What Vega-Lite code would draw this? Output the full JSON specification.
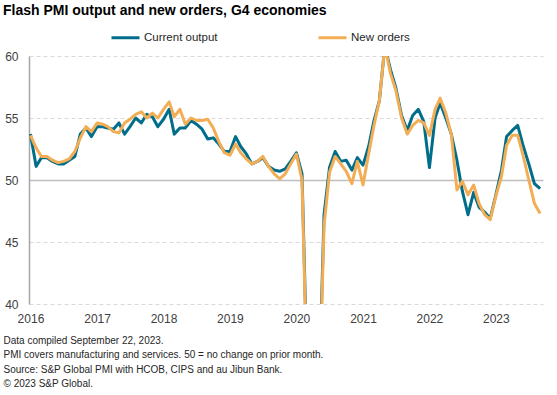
{
  "$schema": "https://vega.github.io/schema/vega-lite/v6.json",
  "width": 514,
  "height": 248,
  "autosize": {"type": "none"},
  "padding": {"left": 29, "top": 56, "right": 14, "bottom": 91},
  "background": "white",
  "title": {
    "text": "Flash PMI output and new orders, G4 economies",
    "anchor": "start",
    "frame": "group",
    "dx": -26,
    "fontSize": 14,
    "fontWeight": "bold",
    "font": "Liberation Sans",
    "color": "#000000",
    "offset": 4
  },
  "data": {
    "values": [
      {"d": "2016-01-01", "Current output": 53.7, "New orders": 53.6},
      {"d": "2016-02-01", "Current output": 51.1, "New orders": 52.6},
      {"d": "2016-03-01", "Current output": 51.8, "New orders": 51.9},
      {"d": "2016-04-01", "Current output": 51.8, "New orders": 51.9},
      {"d": "2016-05-01", "Current output": 51.5, "New orders": 51.6},
      {"d": "2016-06-01", "Current output": 51.3, "New orders": 51.4},
      {"d": "2016-07-01", "Current output": 51.3, "New orders": 51.5},
      {"d": "2016-08-01", "Current output": 51.6, "New orders": 51.7},
      {"d": "2016-09-01", "Current output": 51.9, "New orders": 52.3},
      {"d": "2016-10-01", "Current output": 53.7, "New orders": 53.4},
      {"d": "2016-11-01", "Current output": 54.2, "New orders": 54.3},
      {"d": "2016-12-01", "Current output": 53.5, "New orders": 53.9},
      {"d": "2017-01-01", "Current output": 54.3, "New orders": 54.6},
      {"d": "2017-02-01", "Current output": 54.3, "New orders": 54.5},
      {"d": "2017-03-01", "Current output": 54.2, "New orders": 54.3},
      {"d": "2017-04-01", "Current output": 54.1, "New orders": 53.9},
      {"d": "2017-05-01", "Current output": 54.6, "New orders": 53.8},
      {"d": "2017-06-01", "Current output": 53.7, "New orders": 54.6},
      {"d": "2017-07-01", "Current output": 54.3, "New orders": 54.9},
      {"d": "2017-08-01", "Current output": 55.0, "New orders": 55.3},
      {"d": "2017-09-01", "Current output": 54.6, "New orders": 55.5},
      {"d": "2017-10-01", "Current output": 55.3, "New orders": 55.0},
      {"d": "2017-11-01", "Current output": 55.1, "New orders": 55.4},
      {"d": "2017-12-01", "Current output": 54.3, "New orders": 55.0},
      {"d": "2018-01-01", "Current output": 54.9, "New orders": 55.7},
      {"d": "2018-02-01", "Current output": 55.7, "New orders": 56.3},
      {"d": "2018-03-01", "Current output": 53.7, "New orders": 55.1},
      {"d": "2018-04-01", "Current output": 54.2, "New orders": 55.7},
      {"d": "2018-05-01", "Current output": 54.2, "New orders": 54.5},
      {"d": "2018-06-01", "Current output": 54.8, "New orders": 55.0},
      {"d": "2018-07-01", "Current output": 54.5, "New orders": 54.8},
      {"d": "2018-08-01", "Current output": 54.1, "New orders": 54.8},
      {"d": "2018-09-01", "Current output": 53.3, "New orders": 54.9},
      {"d": "2018-10-01", "Current output": 53.4, "New orders": 54.2},
      {"d": "2018-11-01", "Current output": 52.9, "New orders": 53.1},
      {"d": "2018-12-01", "Current output": 52.3, "New orders": 52.2},
      {"d": "2019-01-01", "Current output": 52.3, "New orders": 52.0},
      {"d": "2019-02-01", "Current output": 53.5, "New orders": 52.9},
      {"d": "2019-03-01", "Current output": 52.7, "New orders": 52.2},
      {"d": "2019-04-01", "Current output": 52.1, "New orders": 51.7},
      {"d": "2019-05-01", "Current output": 51.3, "New orders": 51.3},
      {"d": "2019-06-01", "Current output": 51.5, "New orders": 51.5},
      {"d": "2019-07-01", "Current output": 51.8, "New orders": 51.9},
      {"d": "2019-08-01", "Current output": 51.1, "New orders": 51.1},
      {"d": "2019-09-01", "Current output": 50.8, "New orders": 50.5},
      {"d": "2019-10-01", "Current output": 50.7, "New orders": 50.1},
      {"d": "2019-11-01", "Current output": 50.9, "New orders": 50.5},
      {"d": "2019-12-01", "Current output": 51.5, "New orders": 51.3},
      {"d": "2020-01-01", "Current output": 52.2, "New orders": 52.1},
      {"d": "2020-02-01", "Current output": 50.5, "New orders": 50.0},
      {"d": "2020-03-01", "Current output": 34.0, "New orders": 33.0},
      {"d": "2020-04-01", "Current output": 15.0, "New orders": 15.0},
      {"d": "2020-05-01", "Current output": 31.0, "New orders": 30.0},
      {"d": "2020-06-01", "Current output": 47.2, "New orders": 46.3},
      {"d": "2020-07-01", "Current output": 51.0, "New orders": 50.6},
      {"d": "2020-08-01", "Current output": 52.3, "New orders": 51.9},
      {"d": "2020-09-01", "Current output": 51.5, "New orders": 51.3},
      {"d": "2020-10-01", "Current output": 51.6, "New orders": 50.7},
      {"d": "2020-11-01", "Current output": 50.8, "New orders": 49.7},
      {"d": "2020-12-01", "Current output": 51.8, "New orders": 51.5},
      {"d": "2021-01-01", "Current output": 51.2, "New orders": 49.6},
      {"d": "2021-02-01", "Current output": 52.7, "New orders": 52.1},
      {"d": "2021-03-01", "Current output": 54.7, "New orders": 54.3},
      {"d": "2021-04-01", "Current output": 56.4, "New orders": 56.4},
      {"d": "2021-05-01", "Current output": 60.8, "New orders": 60.8},
      {"d": "2021-06-01", "Current output": 58.9, "New orders": 58.6},
      {"d": "2021-07-01", "Current output": 57.4, "New orders": 57.2},
      {"d": "2021-08-01", "Current output": 55.2, "New orders": 55.0},
      {"d": "2021-09-01", "Current output": 54.0, "New orders": 53.7},
      {"d": "2021-10-01", "Current output": 55.2, "New orders": 54.4},
      {"d": "2021-11-01", "Current output": 55.7, "New orders": 54.8},
      {"d": "2021-12-01", "Current output": 54.7, "New orders": 54.6},
      {"d": "2022-01-01", "Current output": 51.0, "New orders": 53.6},
      {"d": "2022-02-01", "Current output": 55.0, "New orders": 55.7},
      {"d": "2022-03-01", "Current output": 56.2, "New orders": 56.6},
      {"d": "2022-04-01", "Current output": 55.0, "New orders": 55.4},
      {"d": "2022-05-01", "Current output": 53.7, "New orders": 53.7},
      {"d": "2022-06-01", "Current output": 51.6, "New orders": 49.2},
      {"d": "2022-07-01", "Current output": 49.1, "New orders": 49.9},
      {"d": "2022-08-01", "Current output": 47.2, "New orders": 48.8},
      {"d": "2022-09-01", "Current output": 49.0, "New orders": 49.6},
      {"d": "2022-10-01", "Current output": 47.8, "New orders": 48.1},
      {"d": "2022-11-01", "Current output": 47.4, "New orders": 47.2},
      {"d": "2022-12-01", "Current output": 46.9, "New orders": 46.8},
      {"d": "2023-01-01", "Current output": 48.8, "New orders": 48.7},
      {"d": "2023-02-01", "Current output": 50.8, "New orders": 50.3},
      {"d": "2023-03-01", "Current output": 53.5, "New orders": 52.8},
      {"d": "2023-04-01", "Current output": 54.0, "New orders": 53.6},
      {"d": "2023-05-01", "Current output": 54.4, "New orders": 53.6},
      {"d": "2023-06-01", "Current output": 52.7, "New orders": 51.9},
      {"d": "2023-07-01", "Current output": 51.3, "New orders": 50.0},
      {"d": "2023-08-01", "Current output": 49.7, "New orders": 48.1},
      {"d": "2023-09-01", "Current output": 49.3, "New orders": 47.3}
    ]
  },
  "transform": [{"fold": ["Current output", "New orders"], "as": ["series", "value"]}],
  "mark": {"type": "line", "strokeWidth": 3, "clip": true, "strokeJoin": "round"},
  "encoding": {
    "x": {
      "field": "d",
      "type": "temporal",
      "scale": {
        "type": "utc",
        "nice": false,
        "domain": [
          {"year": 2015, "month": 12, "date": 24, "utc": true},
          {"year": 2023, "month": 9, "date": 17, "utc": true}
        ]
      },
      "axis": {
        "format": "%Y",
        "tickCount": {"interval": "year", "step": 1},
        "labelFlush": false,
        "labelOverlap": false,
        "labelFontSize": 12,
        "labelFont": "Liberation Sans",
        "labelColor": "#404040",
        "labelPadding": 9,
        "ticks": false,
        "tickSize": 0,
        "domain": false,
        "grid": false,
        "title": [
          "Data compiled September 22, 2023.",
          "PMI covers manufacturing and services. 50 = no change on prior month.",
          "Source: S&P Global PMI with HCOB, CIPS and au Jibun Bank.",
          "© 2023 S&P Global."
        ],
        "titleFont": "Liberation Sans",
        "titleFontSize": 10,
        "titleFontWeight": "normal",
        "titleColor": "#262626",
        "titleLineHeight": 14.5,
        "titleAnchor": "start",
        "titleAlign": "left",
        "titleBaseline": "top",
        "titleX": -26,
        "titleY": 31
      }
    },
    "y": {
      "field": "value",
      "type": "quantitative",
      "scale": {"domain": [40, 60], "nice": false, "zero": false},
      "axis": {
        "values": [40, 45, 50, 55, 60],
        "title": null,
        "labelFontSize": 12,
        "labelFont": "Liberation Sans",
        "labelColor": "#404040",
        "labelPadding": 11,
        "ticks": false,
        "tickSize": 0,
        "domain": true,
        "domainColor": "#a6a6a6",
        "domainWidth": 1.5,
        "grid": true,
        "gridColor": {"condition": {"test": "datum.value === 50", "value": "#bfbfbf"}, "value": "#d9d9d9"},
        "gridDash": {"condition": {"test": "datum.value === 50", "value": []}, "value": [4, 3]},
        "gridWidth": {"condition": {"test": "datum.value === 50", "value": 1.5}, "value": 1}
      }
    },
    "color": {
      "field": "series",
      "type": "nominal",
      "scale": {"domain": ["Current output", "New orders"], "range": ["#006e8a", "#f3ae55"]},
      "legend": {
        "orient": "none",
        "legendX": 81,
        "legendY": -34,
        "direction": "horizontal",
        "title": null,
        "symbolType": "stroke",
        "symbolSize": 784,
        "symbolStrokeWidth": 3,
        "labelFontSize": 11.5,
        "labelFont": "Liberation Sans",
        "labelColor": "#262626",
        "labelOffset": 3,
        "columnPadding": 94
      }
    }
  },
  "config": {"view": {"stroke": null}, "font": "Liberation Sans"}
}
